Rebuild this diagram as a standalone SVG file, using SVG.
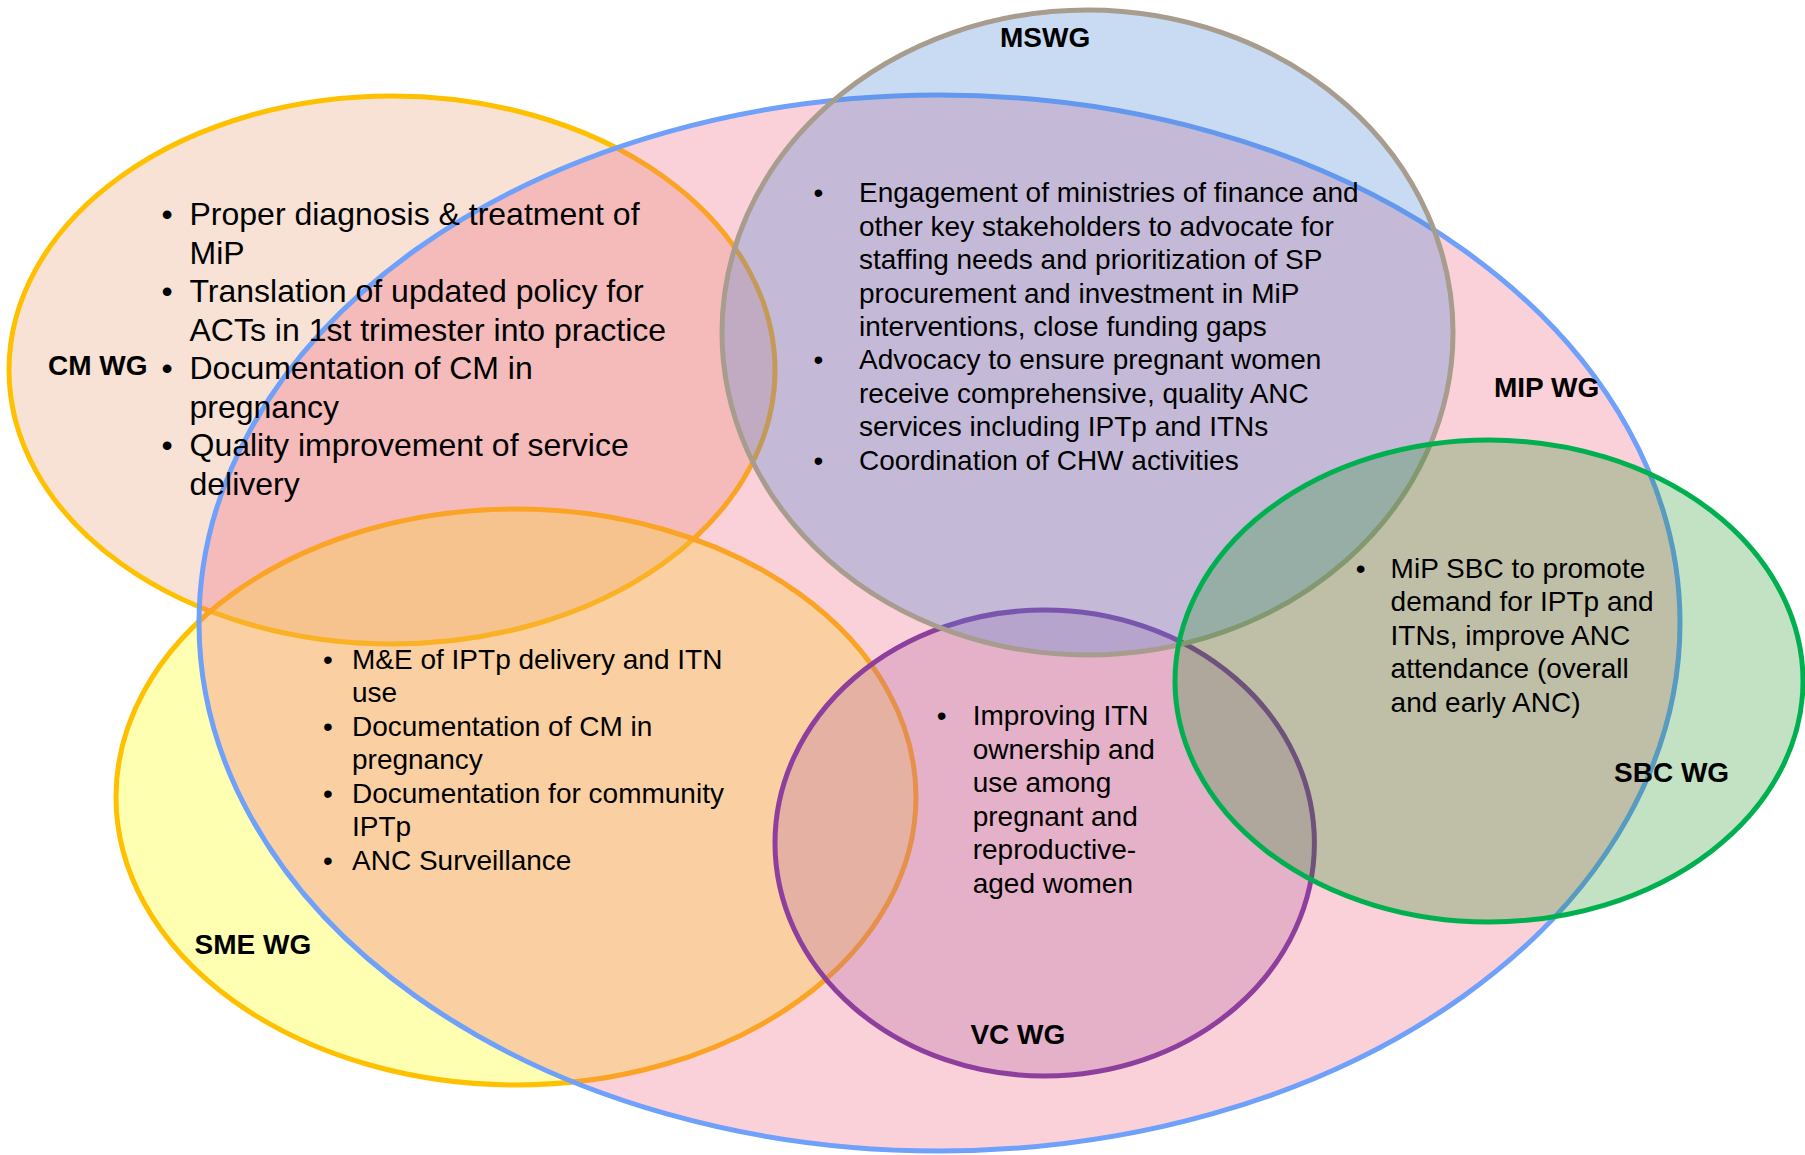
<svg xmlns="http://www.w3.org/2000/svg" width="1805" height="1155" viewBox="0 0 1805 1155">
<style>
  .ell { stroke-width: 5; }
  .txt { font-family: "Liberation Sans", Arial, sans-serif; font-size: 28px; fill: #000; }
  .big { font-size: 32px; }
  .lbl { font-family: "Liberation Sans", Arial, sans-serif; font-size: 28px; font-weight: bold; fill: #000; }
  .bul { text-anchor: middle; }
</style>
<rect width="1805" height="1155" fill="#ffffff"/>
<g id="shapes">
  <g id="node-cm"><ellipse class="ell" cx="392" cy="370" rx="383" ry="274" fill="#F8E2D5" stroke="#FFC000"/></g>
  <g id="node-sme"><ellipse class="ell" cx="516" cy="797" rx="400" ry="288" fill="#FFFF00" fill-opacity="0.3" stroke="#FFC000"/></g>
  <g id="node-mip"><ellipse class="ell" cx="939.5" cy="623" rx="740.5" ry="528" fill="rgb(238,93,124)" fill-opacity="0.29" stroke="#6FA0FA"/></g>
  <g id="node-vc"><ellipse class="ell" cx="1044.7" cy="843" rx="269.7" ry="233" fill="rgb(183,105,164)" fill-opacity="0.3" stroke="#8E3F9E"/></g>
  <g id="node-mswg"><ellipse class="ell" cx="1087.5" cy="332.5" rx="365.5" ry="322.5" fill="rgb(72,135,212)" fill-opacity="0.3" stroke="#A89C8E"/></g>
  <g id="node-sbc"><ellipse class="ell" cx="1489" cy="681" rx="314" ry="241" fill="rgb(16,140,20)" fill-opacity="0.25" stroke="#00B050"/></g>
</g>
<g id="connectors"></g>
<g id="text-cm">
  <text class="lbl" x="48" y="375">CM WG</text>
  <g class="txt big">
    <text class="bul" x="167" y="225">•</text>
    <text x="189.5" y="225">Proper diagnosis &amp; treatment of</text>
    <text x="189.5" y="263.5">MiP</text>
    <text class="bul" x="167" y="302">•</text>
    <text x="189.5" y="302">Translation of updated policy for</text>
    <text x="189.5" y="340.5">ACTs in 1st trimester into practice</text>
    <text class="bul" x="167" y="379">•</text>
    <text x="189.5" y="379">Documentation of CM in</text>
    <text x="189.5" y="417.5">pregnancy</text>
    <text class="bul" x="167" y="456">•</text>
    <text x="189.5" y="456">Quality improvement of service</text>
    <text x="189.5" y="494.5">delivery</text>
  </g>
</g>
<g id="text-mswg">
  <text class="lbl" x="1000" y="47">MSWG</text>
  <g class="txt">
    <text class="bul" x="818.5" y="202.3">•</text>
    <text x="859" y="202.3">Engagement of ministries of finance and</text>
    <text x="859" y="235.7">other key stakeholders to advocate for</text>
    <text x="859" y="269.1">staffing needs and prioritization of SP</text>
    <text x="859" y="302.5">procurement and investment in MiP</text>
    <text x="859" y="335.9">interventions, close funding gaps</text>
    <text class="bul" x="818.5" y="369.3">•</text>
    <text x="859" y="369.3">Advocacy to ensure pregnant women</text>
    <text x="859" y="402.7">receive comprehensive, quality ANC</text>
    <text x="859" y="436.1">services including IPTp and ITNs</text>
    <text class="bul" x="818.5" y="469.5">•</text>
    <text x="859" y="469.5">Coordination of CHW activities</text>
  </g>
</g>
<g id="text-mip">
  <text class="lbl" x="1494" y="397">MIP WG</text>
</g>
<g id="text-sme">
  <text class="lbl" x="194.5" y="954">SME WG</text>
  <g class="txt">
    <text class="bul" x="328" y="668.5">•</text>
    <text x="352" y="668.5">M&amp;E of IPTp delivery and ITN</text>
    <text x="352" y="702">use</text>
    <text class="bul" x="328" y="735.5">•</text>
    <text x="352" y="735.5">Documentation of CM in</text>
    <text x="352" y="769">pregnancy</text>
    <text class="bul" x="328" y="802.5">•</text>
    <text x="352" y="802.5">Documentation for community</text>
    <text x="352" y="836">IPTp</text>
    <text class="bul" x="328" y="869.5">•</text>
    <text x="352" y="869.5">ANC Surveillance</text>
  </g>
</g>
<g id="text-vc">
  <text class="lbl" x="970.4" y="1044">VC WG</text>
  <g class="txt">
    <text class="bul" x="941.6" y="725">•</text>
    <text x="972.7" y="725">Improving ITN</text>
    <text x="972.7" y="758.5">ownership and</text>
    <text x="972.7" y="792">use among</text>
    <text x="972.7" y="825.5">pregnant and</text>
    <text x="972.7" y="859">reproductive-</text>
    <text x="972.7" y="892.5">aged women</text>
  </g>
</g>
<g id="text-sbc">
  <text class="lbl" x="1614" y="782">SBC WG</text>
  <g class="txt">
    <text class="bul" x="1360.6" y="577.5">•</text>
    <text x="1390.6" y="577.5">MiP SBC to promote</text>
    <text x="1390.6" y="611">demand for IPTp and</text>
    <text x="1390.6" y="644.5">ITNs, improve ANC</text>
    <text x="1390.6" y="678">attendance (overall</text>
    <text x="1390.6" y="711.5">and early ANC)</text>
  </g>
</g>
</svg>
